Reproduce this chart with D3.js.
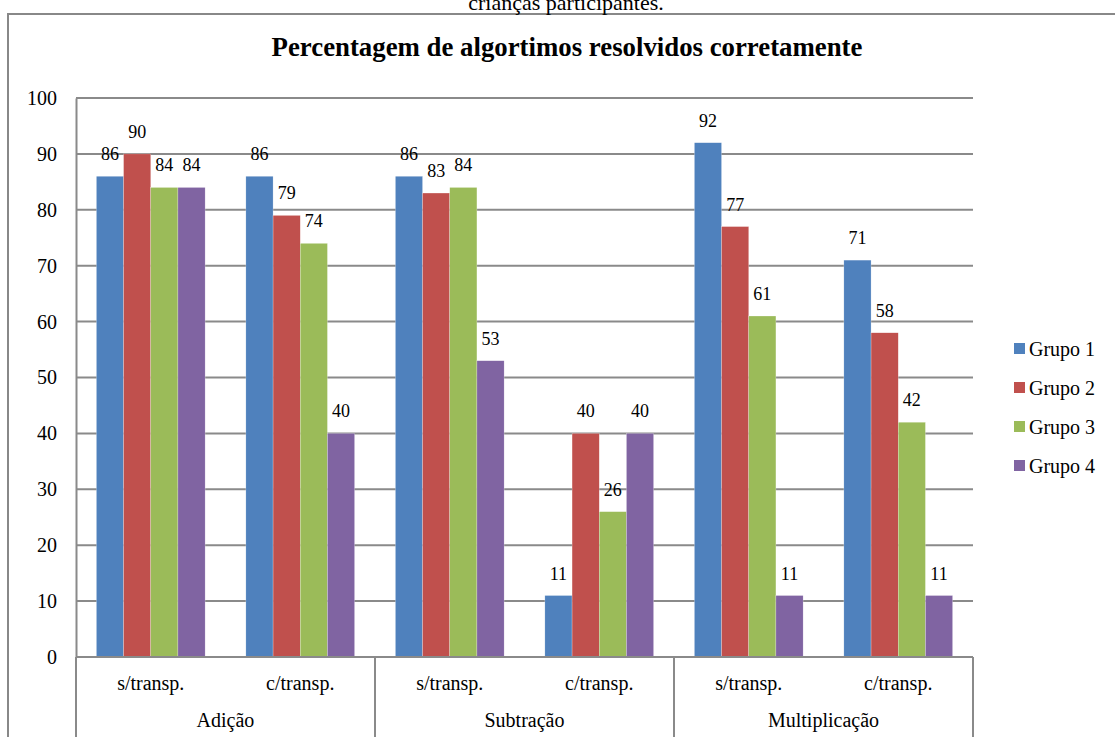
<!DOCTYPE html>
<html><head><meta charset="utf-8">
<script src="https://cdn.jsdelivr.net/npm/d3@7"></script>
<style>body{margin:0;background:#fff;} svg{display:block;}</style>
</head><body>
<svg id="c" width="1115" height="737"></svg>
<script>
const groups = ["Adição","Subtração","Multiplicação"];
const subcats = ["s/transp.","c/transp."];
const seriesNames = ["Grupo 1","Grupo 2","Grupo 3","Grupo 4"];
const colors = ["#4F81BD","#C0504D","#9BBB59","#8064A2"];
// values per category (group × subcat), per series
const grupo1 = [86,86,86,11,92,71];
const grupo2 = [90,79,83,40,77,58];
const grupo3 = [84,74,84,26,61,42];
const grupo4 = [84,40,53,40,11,11];
const yTicks = [0,10,20,30,40,50,60,70,80,90,100];

const series = [grupo1,grupo2,grupo3,grupo4];
const cats = [];
groups.forEach(g=>subcats.forEach(s=>cats.push(g+"|"+s)));

const svg = d3.select("#c");
const font = "'Liberation Serif','Times New Roman',serif";
const L=76, R=973, T=98, B=657;

// frame
svg.append("rect").attr("x",8).attr("y",14).attr("width",1200).attr("height",800)
  .attr("fill","none").attr("stroke","#888").attr("stroke-width",2);
// top cut-off text
svg.append("text").attr("x",566).attr("y",10).attr("text-anchor","middle")
  .attr("font-family",font).attr("font-size",22).text("crianças participantes.");
// title
svg.append("text").attr("x",567).attr("y",56).attr("text-anchor","middle")
  .attr("font-family",font).attr("font-size",26.8).attr("font-weight","bold")
  .text("Percentagem de algortimos resolvidos corretamente");

const y = d3.scaleLinear().domain([0,100]).range([B,T]);
const x0 = d3.scaleBand().domain(cats).range([L,R]).paddingInner(0.2727).paddingOuter(0.1364);
const x1 = d3.scaleBand().domain(d3.range(4)).range([0,x0.bandwidth()]);

// gridlines
svg.append("g").selectAll("line").data(yTicks.filter(t=>t>0)).join("line")
  .attr("x1",L).attr("x2",R).attr("y1",d=>y(d)).attr("y2",d=>y(d))
  .attr("stroke","#8a8a8a").attr("stroke-width",2);

// y axis
const ya = svg.append("g").attr("transform",`translate(${L},0)`)
  .call(d3.axisLeft(y).tickValues(yTicks).tickSize(0).tickPadding(19));
ya.select(".domain").attr("stroke","#8a8a8a").attr("stroke-width",2);
ya.selectAll("text").attr("font-family",font).attr("font-size",20).attr("fill","#000");

// bars
const cg = svg.append("g").selectAll("g").data(cats).join("g")
  .attr("transform",d=>`translate(${x0(d)},0)`);
cg.selectAll("rect").data((d,i)=>series.map((s,k)=>({k,v:s[i]}))).join("rect")
  .attr("x",d=>x1(d.k)).attr("width",x1.bandwidth())
  .attr("y",d=>y(d.v)).attr("height",d=>B-y(d.v))
  .attr("fill",d=>colors[d.k]).attr("stroke","#fff").attr("stroke-width",0.4).attr("stroke-opacity",0.6);
cg.selectAll("text").data((d,i)=>series.map((s,k)=>({k,v:s[i]}))).join("text")
  .attr("x",d=>x1(d.k)+x1.bandwidth()/2).attr("y",d=>y(d.v)-16)
  .attr("text-anchor","middle").attr("font-family",font).attr("font-size",18)
  .text(d=>d.v);

// x axis
svg.append("line").attr("x1",L).attr("x2",R).attr("y1",B).attr("y2",B)
  .attr("stroke","#8a8a8a").attr("stroke-width",2);
const bounds = [0,2,4,6].map(i=>L+i*(R-L)/6);
svg.append("g").selectAll("line").data(bounds).join("line")
  .attr("x1",d=>d).attr("x2",d=>d).attr("y1",B).attr("y2",740)
  .attr("stroke","#8a8a8a").attr("stroke-width",2);
svg.append("g").selectAll("text").data(cats).join("text")
  .attr("x",(d,i)=>L+(i+0.5)*(R-L)/6).attr("y",690).attr("text-anchor","middle")
  .attr("font-family",font).attr("font-size",20).text(d=>d.split("|")[1]);
svg.append("g").selectAll("text").data(groups).join("text")
  .attr("x",(d,i)=>L+(i*2+1)*(R-L)/6).attr("y",727).attr("text-anchor","middle")
  .attr("font-family",font).attr("font-size",20).text(d=>d);

// legend
const lg = svg.append("g").selectAll("g").data(seriesNames).join("g")
  .attr("transform",(d,i)=>`translate(1014,${349+i*39})`);
lg.append("rect").attr("x",0).attr("y",-6).attr("width",11).attr("height",11).attr("fill",(d,i)=>colors[i]);
lg.append("text").attr("x",15).attr("y",7).attr("font-family",font).attr("font-size",20).text(d=>d);
</script>
</body></html>
